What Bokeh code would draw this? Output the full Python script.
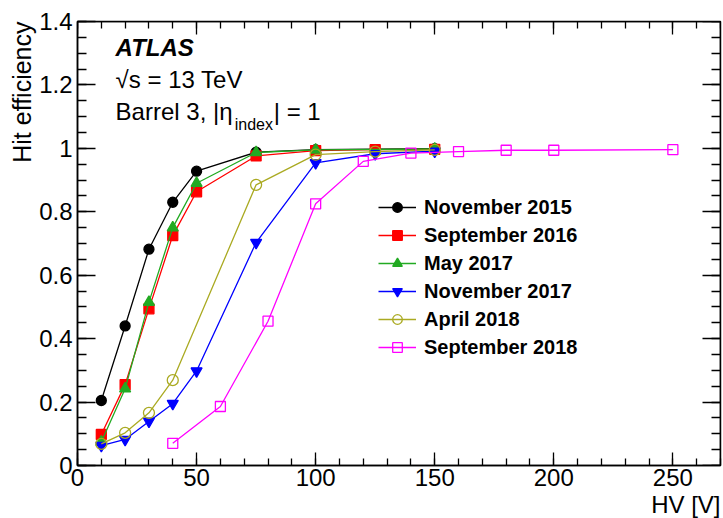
import math
from bokeh.plotting import figure
from bokeh.models import Range1d, LinearAxis, FixedTicker, Label, Legend, LegendItem, Title
from bokeh.embed import file_html
from bokeh.resources import INLINE

# ---------------- data ----------------
series_names = ["November 2015", "September 2016", "May 2017",
                "November 2017", "April 2018", "September 2018"]

hv_nov2015 = [10, 20, 30, 40, 50, 75, 100, 150]
eff_nov2015 = [0.205, 0.440, 0.682, 0.830, 0.928, 0.988, 0.996, 0.999]

hv_sep2016 = [10, 20, 30, 40, 50, 75, 100, 125, 150]
eff_sep2016 = [0.098, 0.255, 0.494, 0.725, 0.863, 0.976, 0.993, 0.996, 0.997]

hv_may2017 = [10, 20, 30, 40, 50, 75, 100, 150]
eff_may2017 = [0.074, 0.242, 0.515, 0.750, 0.890, 0.987, 0.995, 0.998]

hv_nov2017 = [10, 20, 30, 40, 50, 75, 100, 125, 150]
eff_nov2017 = [0.063, 0.082, 0.139, 0.195, 0.298, 0.703, 0.954, 0.983, 0.991]

hv_apr2018 = [10, 20, 30, 40, 75, 100, 125, 150]
eff_apr2018 = [0.068, 0.103, 0.166, 0.269, 0.885, 0.980, 0.990, 0.995]

hv_sep2018 = [40, 60, 80, 100, 120, 140, 160, 180, 200, 250]
eff_sep2018 = [0.070, 0.186, 0.455, 0.825, 0.959, 0.985, 0.990, 0.994, 0.994, 0.996]

x_ticks = [0, 50, 100, 150, 200, 250]
x_tick_labels = ["0", "50", "100", "150", "200", "250"]
y_ticks = [0, 0.2, 0.4, 0.6, 0.8, 1, 1.2, 1.4]
y_tick_labels = ["0", "0.2", "0.4", "0.6", "0.8", "1", "1.2", "1.4"]

FONT = "Liberation Sans"

p = figure(width=723, height=518, output_backend="svg", toolbar_location=None,
           x_range=Range1d(0, 270), y_range=Range1d(0, 1.4),
           min_border_left=77, min_border_right=3, min_border_top=21, min_border_bottom=53)
p.xgrid.visible = False
p.ygrid.visible = False
p.outline_line_color = "black"
p.outline_line_width = 1.5
p.background_fill_color = "white"
p.border_fill_color = "white"

x_minor = [v for v in range(0, 271, 10)]
y_minor = [round(i * 0.05, 2) for i in range(0, 29)]
xt = FixedTicker(ticks=x_ticks, minor_ticks=x_minor)
yt = FixedTicker(ticks=y_ticks, minor_ticks=y_minor)


def style_axis(ax, ticker, labels, ticks, major_len, minor_len, show_labels):
    ax.ticker = ticker
    ax.axis_line_color = "black"
    ax.axis_line_width = 1.5
    ax.major_tick_line_color = "black"
    ax.minor_tick_line_color = "black"
    ax.major_tick_line_width = 1.3
    ax.minor_tick_line_width = 1.3
    ax.major_tick_in = major_len
    ax.major_tick_out = 0
    ax.minor_tick_in = minor_len
    ax.minor_tick_out = 0
    if show_labels:
        ax.major_label_overrides = {t: l for t, l in zip(ticks, labels)}
        ax.major_label_text_font = FONT
        ax.major_label_text_font_size = "24px"
        ax.major_label_text_color = "black"
    else:
        ax.major_label_overrides = {t: "" for t in ticks}
        ax.major_label_text_font_size = "0px"
        ax.major_label_standoff = 0


xa = p.xaxis[0]
style_axis(xa, xt, x_tick_labels, x_ticks, 13, 7, True)
xa.major_label_standoff = 3

ya = p.yaxis[0]
style_axis(ya, yt, y_tick_labels, y_ticks, 18, 9, True)
ya.major_label_standoff = 5

top_ax = LinearAxis(fixed_location=1.4)
style_axis(top_ax, xt, x_tick_labels, x_ticks, 13, 7, False)
p.add_layout(top_ax, "above")
right_ax = LinearAxis(fixed_location=270)
style_axis(right_ax, yt, y_tick_labels, y_ticks, 18, 9, False)
p.add_layout(right_ax, "right")

# axis titles as side titles (right/top aligned like the reference)
p.add_layout(Title(text="HV [V]", align="right", text_font=FONT, text_font_size="24px",
                   text_font_style="normal", text_color="black", standoff=0), "below")
p.add_layout(Title(text="Hit efficiency", align="right", text_font=FONT, text_font_size="25px",
                   text_font_style="normal", text_color="black", standoff=2), "left")

# ---------------- series ----------------
specs = [
    (hv_nov2015, eff_nov2015, "black", "circle", True, 10),
    (hv_sep2016, eff_sep2016, "#ff0000", "square", True, 10),
    (hv_may2017, eff_may2017, "#22aa22", "triangle", True, 11),
    (hv_nov2017, eff_nov2017, "#0000ff", "inverted_triangle", True, 11),
    (hv_apr2018, eff_apr2018, "#aaaa22", "circle", False, 11),
    (hv_sep2018, eff_sep2018, "#ff00ff", "square", False, 10),
]

items = []
for name, (xs, ys, col, mk, filled, sz) in zip(series_names, specs):
    ln = p.line(xs, ys, line_color=col, line_width=1.3)
    sc = p.scatter(xs, ys, marker=mk, size=sz, line_color=col, line_width=1.3,
                   fill_color=col if filled else None)
    items.append(LegendItem(label=name, renderers=[ln, sc]))

legend = Legend(items=items, location=(301, 106), orientation="vertical",
                label_text_font=FONT, label_text_font_style="bold",
                label_text_font_size="20px", label_text_color="black",
                glyph_width=38, glyph_height=24, label_height=20,
                label_standoff=8, spacing=4, padding=0, margin=0,
                border_line_alpha=0, background_fill_alpha=0)
p.add_layout(legend)

# ---------------- texts ----------------
p.add_layout(Label(x=16, y=1.3166, text="ATLAS", text_font=FONT,
                   text_font_style="bold italic", text_font_size="24px",
                   text_color="black", text_baseline="middle"))
p.add_layout(Label(x=16, y=1.2179, text="\u221as = 13 TeV", text_font=FONT,
                   text_font_size="24px", text_color="black", text_baseline="middle"))
p.add_layout(Label(x=16, y=1.1170, text="Barrel 3, |\u03b7", text_font=FONT,
                   text_font_size="24px", text_color="black", text_baseline="middle"))
p.add_layout(Label(x=66, y=1.0741, text="index", text_font=FONT,
                   text_font_size="16px", text_color="black", text_baseline="middle"))
p.add_layout(Label(x=82.4, y=1.1170, text="| = 1", text_font=FONT,
                   text_font_size="24px", text_color="black", text_baseline="middle"))

open("out.html", "w").write(file_html(p, INLINE))
